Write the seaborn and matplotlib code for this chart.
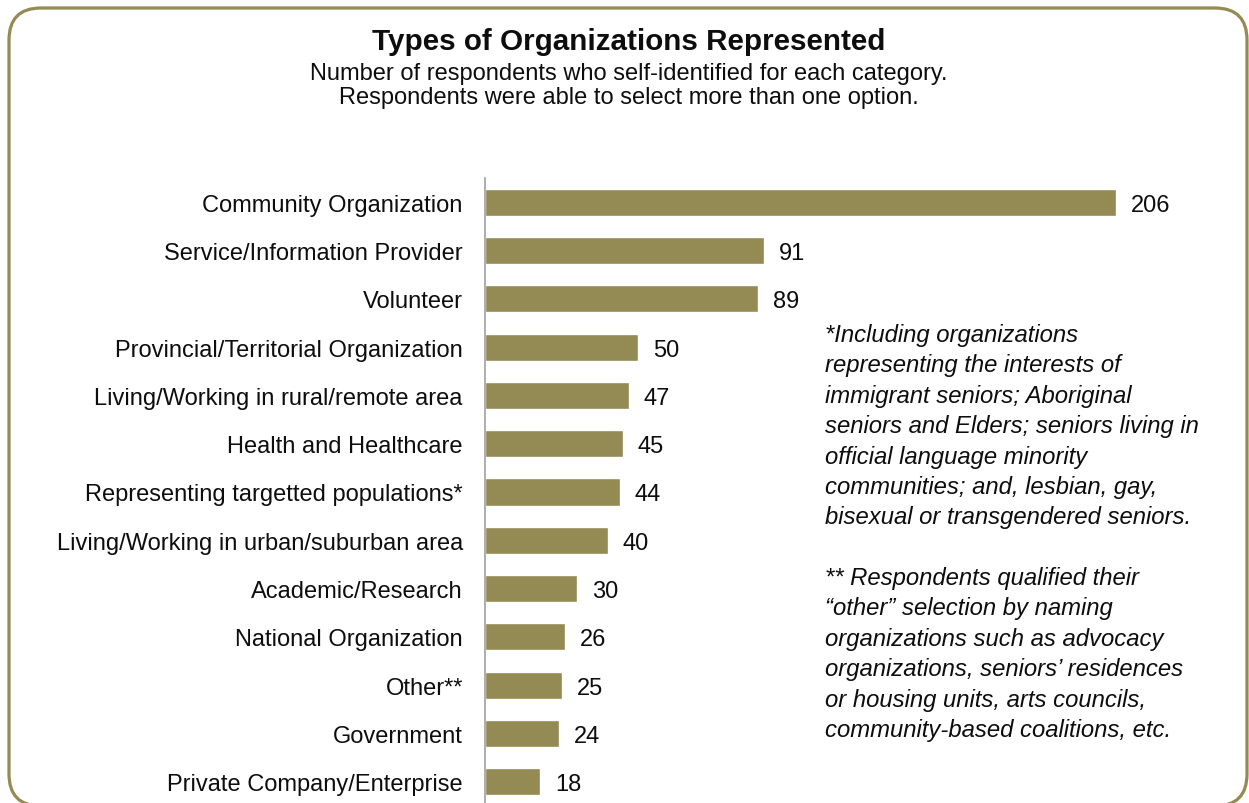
import matplotlib
matplotlib.use("Agg")
import matplotlib.pyplot as plt
from matplotlib.patches import FancyBboxPatch
import seaborn as sns
import pandas as pd

# data
categories = [
    "Community Organization",
    "Service/Information Provider",
    "Volunteer",
    "Provincial/Territorial Organization",
    "Living/Working in rural/remote area",
    "Health and Healthcare",
    "Representing targetted populations*",
    "Living/Working in urban/suburban area",
    "Academic/Research",
    "National Organization",
    "Other**",
    "Government",
    "Private Company/Enterprise",
]
counts = [206, 91, 89, 50, 47, 45, 44, 40, 30, 26, 25, 24, 18]

title = "Types of Organizations Represented"
subtitle = ("Number of respondents who self-identified for each category.\n"
            "Respondents were able to select more than one option.")
note = ("*Including organizations\n"
        "representing the interests of\n"
        "immigrant seniors; Aboriginal\n"
        "seniors and Elders; seniors living in\n"
        "official language minority\n"
        "communities; and, lesbian, gay,\n"
        "bisexual or transgendered seniors.\n"
        "\n"
        "** Respondents qualified their\n"
        "\u201cother\u201d selection by naming\n"
        "organizations such as advocacy\n"
        "organizations, seniors\u2019 residences\n"
        "or housing units, arts councils,\n"
        "community-based coalitions, etc.")

olive = "#948A54"
ink = "#0d0d0d"

sns.set_style("white")
plt.rcParams["font.family"] = ["Liberation Sans", "DejaVu Sans"]

df = pd.DataFrame({"category": categories, "count": counts})

W, H = 1249, 804
fig = plt.figure(figsize=(W / 100, H / 100), dpi=100)
fig.patch.set_facecolor("white")

# axes placed in pixel terms: spine at x=485, top at y=179
ax = fig.add_axes([485 / W, -3 / H, 700 / W, (807 - 179) / H])
sns.barplot(data=df, x="count", y="category", orient="h", color=olive,
            width=0.56, saturation=1, ax=ax)
ax.set_xlim(0, 700 / 3.063)
ax.set_ylim(len(categories) - 0.5, -0.5)
ax.set_xlabel("")
ax.set_ylabel("")
ax.set_xticks([])
for s in ["top", "right", "bottom"]:
    ax.spines[s].set_visible(False)
ax.spines["left"].set_color("#a0a0a0")
ax.spines["left"].set_linewidth(1.2)
ax.tick_params(axis="y", length=0, pad=16, labelsize=17, labelcolor=ink)

for bar, v in zip(ax.patches, counts):
    ax.text(bar.get_width() + 15 / 3.063, bar.get_y() + bar.get_height() / 2,
            str(v), va="center_baseline", ha="left", fontsize=17, color=ink)

fig.text(629 / W, 1 - 42 / H, title, ha="center", va="center",
         fontsize=21.3, fontweight="bold", color=ink)
fig.text(629 / W, 1 - 86 / H, subtitle, ha="center", va="center",
         fontsize=17, color=ink, linespacing=1.08)

fig.text(825 / W, 1 - 324 / H, note, ha="left", va="top", fontsize=17.2,
         style="italic", color=ink, linespacing=1.41)

# rounded frame around the whole chart
frame = FancyBboxPatch((9, -3), 1238, H - 8 - (-3) - 1,
                       boxstyle="round,pad=0,rounding_size=32",
                       transform=None, fill=False, edgecolor=olive,
                       linewidth=2.3)
fig.patches.append(frame)

fig.savefig("out.png", dpi=100, facecolor="white")
